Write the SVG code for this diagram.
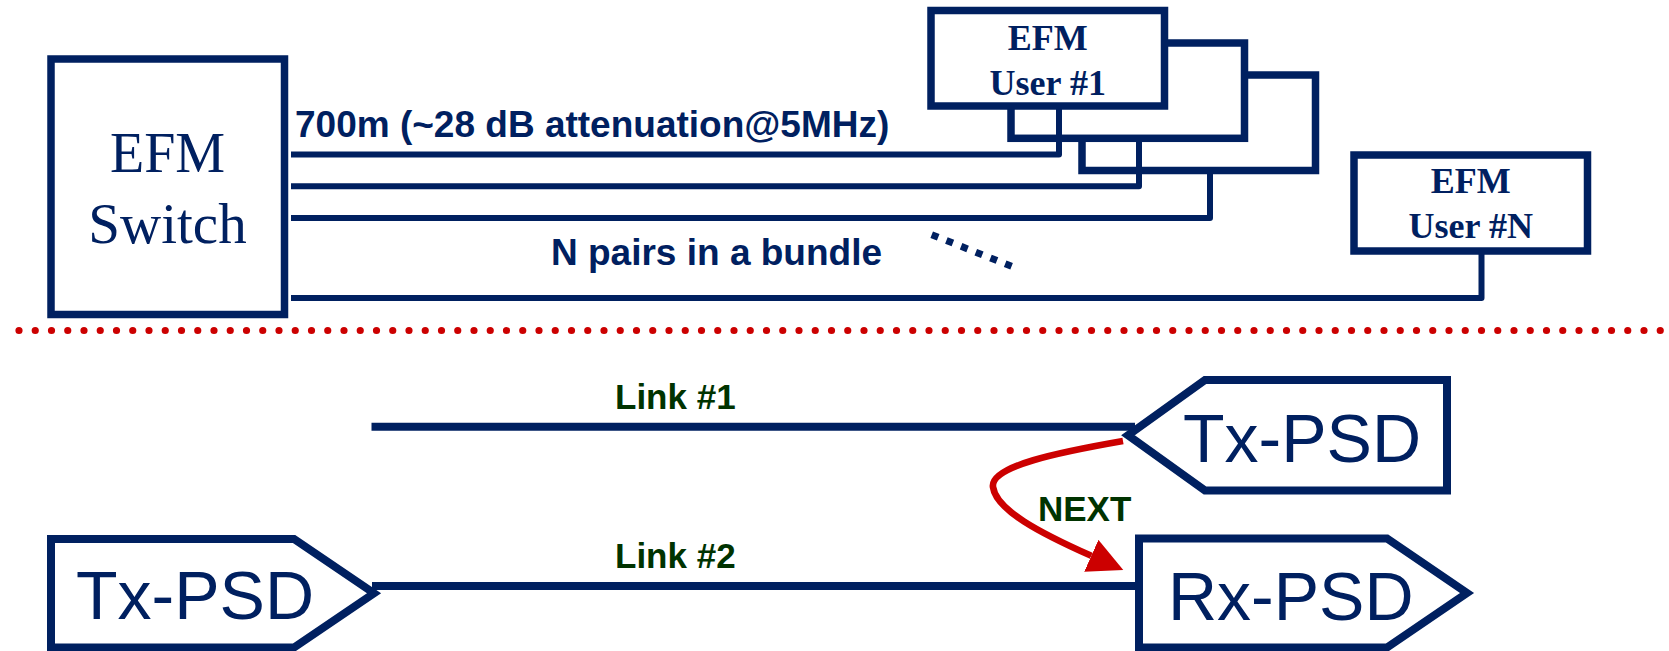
<svg xmlns="http://www.w3.org/2000/svg" width="1669" height="651" viewBox="0 0 1669 651">
<defs>
<style>
.box{fill:#fff;stroke:#002060;stroke-width:7.5}
.psd{fill:#fff;stroke:#002060;stroke-width:8;stroke-linejoin:miter}
.wire{fill:none;stroke:#002060;stroke-width:6;stroke-linejoin:round}
.link{fill:none;stroke:#002060;stroke-width:8}
.serif{font-family:"Liberation Serif","Times New Roman",serif;fill:#002060;text-anchor:middle}
.ubox{font-size:36px;font-weight:bold}
.lbl{font-family:"Liberation Sans",Arial,sans-serif;font-weight:bold;fill:#002060;font-size:37px}
.glbl{font-family:"Liberation Sans",Arial,sans-serif;font-weight:bold;fill:#003300;font-size:35px}
.psdt{font-family:"Liberation Sans",Arial,sans-serif;fill:#002060;font-size:68px}
</style>
<marker id="redhead" markerUnits="userSpaceOnUse" markerWidth="35" markerHeight="35" viewBox="0 0 35 35" refX="0" refY="17.5" orient="auto">
<path d="M0,0 L35,17.5 L0,35 Z" fill="#cc0000"/>
</marker>
</defs>

<g id="switch">
<rect class="box" x="51" y="59" width="233.5" height="255.5"/>
<text class="serif" x="167.5" y="171.7" font-size="56">EFM</text>
<text class="serif" x="167.5" y="243.3" font-size="57">Switch</text>
</g>

<g id="user3">
<rect class="box" x="1082" y="75" width="233.5" height="95.5"/>
</g>
<g id="user2">
<rect class="box" x="1011" y="43" width="233.5" height="95.3"/>
</g>
<g id="user1">
<rect class="box" x="931" y="10.5" width="233.5" height="95.5"/>
<text class="serif ubox" x="1047.75" y="50">EFM</text>
<text class="serif ubox" x="1047.75" y="95">User #1</text>
</g>
<g id="userN">
<rect class="box" x="1354" y="155" width="233.5" height="96"/>
<text class="serif ubox" x="1470.75" y="193.3">EFM</text>
<text class="serif ubox" x="1470.75" y="238.3">User #N</text>
</g>

<g id="tx-right">
<path class="psd" d="M1447,380 L1205,380 L1128,435.25 L1205,490.5 L1447,490.5 Z"/>
<text class="psdt" x="1183" y="461.7">Tx-PSD</text>
</g>
<g id="tx-left">
<path class="psd" d="M51,539 L294,539 L374,593.25 L294,647.5 L51,647.5 Z"/>
<text class="psdt" x="76" y="619.3">Tx-PSD</text>
</g>
<g id="rx-right">
<path class="psd" d="M1139,538.5 L1387,538.5 L1467,593 L1387,647.5 L1139,647.5 Z"/>
<text class="psdt" x="1168" y="620">Rx-PSD</text>
</g>

<g id="connectors">
<path class="wire" d="M291,154.5 H1059 V106"/>
<path class="wire" d="M291,186.3 H1139 V138"/>
<path class="wire" d="M291,218 H1210 V170"/>
<path class="wire" d="M291,298 H1481.5 V251"/>
<line x1="931.7" y1="234.7" x2="1011.6" y2="266.3" stroke="#002060" stroke-width="7" stroke-dasharray="7 8.8"/>
<line x1="19" y1="330.5" x2="1669" y2="330.5" stroke="#cc0000" stroke-width="7.2" stroke-linecap="round" stroke-dasharray="0 16.25"/>
<path class="link" d="M371.5,426.7 H1135"/>
<path class="link" d="M372,586 H1139"/>
<path d="M1123,441 C1060,452 990,466 993,487 C996,510 1040,533 1091.3,555.8" fill="none" stroke="#cc0000" stroke-width="6.7" marker-end="url(#redhead)"/>
</g>

<g id="labels">
<text class="lbl" x="295" y="136.5">700m (~28 dB attenuation@5MHz)</text>
<text class="lbl" x="551" y="265">N pairs in a bundle</text>
<text class="glbl" x="615" y="409">Link #1</text>
<text class="glbl" x="615" y="568">Link #2</text>
<text class="glbl" x="1038" y="520.5" font-size="36">NEXT</text>
</g>
</svg>
